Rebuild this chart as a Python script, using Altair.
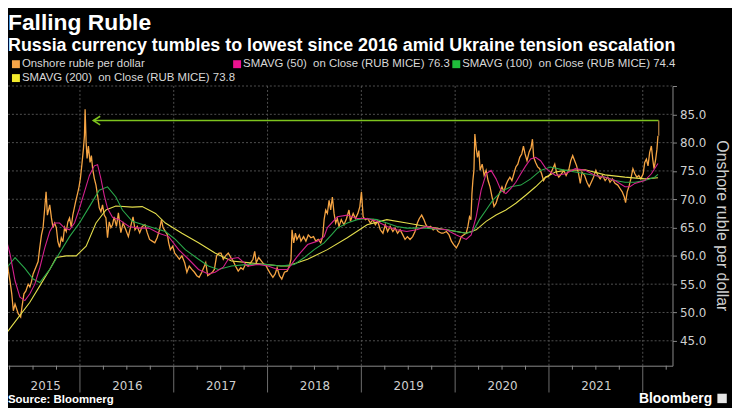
import altair as alt
import pandas as pd

# ---------------- text ----------------
TITLE = "Falling Ruble"
SUBTITLE = "Russia currency tumbles to lowest since 2016 amid Ukraine tension escalation"
SOURCE = "Source: Bloomnerg"
BRAND = "Bloomberg"
Y_TITLE = "Onshore ruble per dollar"

SERIES = [
    "Onshore ruble per dollar",
    "SMAVG (50)  on Close (RUB MICE) 76.3",
    "SMAVG (100)  on Close (RUB MICE) 74.4",
    "SMAVG (200)  on Close (RUB MICE) 73.8",
]
LEGEND_COLORS = ["#f7a548", "#ec128f", "#1fbd3b", "#f2ea2c"]
LINE_COLORS = ["#f5a443", "#d4218d", "#2aa84a", "#e3dd4c"]

YEAR_LABELS = [2015, 2016, 2017, 2018, 2019, 2020, 2021]
YEAR_BOUNDS = [2016, 2017, 2018, 2019, 2020, 2021, 2022]
Y_TICKS = [45, 50, 55, 60, 65, 70, 75, 80, 85, 90]

# ---------------- data (decimal year, RUB per USD) ----------------
PRICE = [
    (2015.149, 63.2), (2015.184, 61.5), (2015.202, 62.0), (2015.220, 59.7), (2015.237, 57.3),
    (2015.255, 55.5), (2015.273, 53.3), (2015.290, 50.3), (2015.308, 51.5), (2015.342, 49.8),
    (2015.368, 49.2), (2015.382, 51.0), (2015.403, 53.3), (2015.424, 53.8), (2015.448, 55.0),
    (2015.466, 54.5), (2015.484, 55.5), (2015.501, 56.8), (2015.530, 58.0), (2015.554, 59.0),
    (2015.572, 61.5), (2015.590, 63.7), (2015.607, 65.0), (2015.625, 68.5), (2015.639, 71.3),
    (2015.653, 67.2), (2015.678, 69.0), (2015.696, 66.7), (2015.713, 65.0), (2015.730, 65.8),
    (2015.748, 65.0), (2015.765, 62.5), (2015.783, 61.5), (2015.801, 63.2), (2015.818, 62.5),
    (2015.836, 65.0), (2015.854, 64.3), (2015.871, 66.0), (2015.889, 66.7), (2015.907, 65.1),
    (2015.924, 67.2), (2015.953, 69.5), (2015.970, 70.7), (2015.987, 71.9), (2016.005, 73.7),
    (2016.023, 76.5), (2016.037, 78.9), (2016.048, 81.2), (2016.055, 85.9), (2016.066, 80.0),
    (2016.076, 77.2), (2016.090, 79.4), (2016.108, 76.5), (2016.122, 77.7), (2016.135, 75.4),
    (2016.153, 73.7), (2016.171, 72.5), (2016.188, 70.7), (2016.206, 68.5), (2016.224, 67.8),
    (2016.241, 69.0), (2016.259, 67.2), (2016.277, 66.7), (2016.294, 63.2), (2016.312, 66.0),
    (2016.330, 65.0), (2016.347, 65.5), (2016.365, 66.9), (2016.389, 65.2), (2016.410, 67.6),
    (2016.436, 64.1), (2016.460, 65.8), (2016.489, 64.6), (2016.516, 63.4), (2016.541, 65.2),
    (2016.566, 66.9), (2016.587, 64.6), (2016.611, 65.2), (2016.637, 64.1), (2016.664, 65.2),
    (2016.693, 65.5), (2016.717, 64.1), (2016.742, 62.9), (2016.770, 62.6), (2016.798, 62.3),
    (2016.823, 63.2), (2016.848, 64.6), (2016.869, 66.4), (2016.886, 65.0), (2016.911, 64.3),
    (2016.933, 63.7), (2016.946, 62.3), (2016.964, 61.1), (2016.989, 61.7), (2017.010, 60.5),
    (2017.034, 60.0), (2017.060, 59.4), (2017.087, 60.0), (2017.116, 58.8), (2017.140, 57.1),
    (2017.165, 58.2), (2017.193, 57.6), (2017.221, 57.1), (2017.246, 56.5), (2017.271, 56.2),
    (2017.299, 57.1), (2017.327, 58.2), (2017.341, 58.8), (2017.362, 56.5), (2017.387, 56.8),
    (2017.412, 57.1), (2017.433, 57.6), (2017.457, 60.0), (2017.483, 60.5), (2017.504, 60.5),
    (2017.528, 59.4), (2017.552, 60.0), (2017.581, 60.5), (2017.609, 59.7), (2017.634, 59.1),
    (2017.658, 58.2), (2017.687, 57.3), (2017.715, 57.9), (2017.739, 57.6), (2017.764, 58.5),
    (2017.792, 58.2), (2017.821, 58.8), (2017.845, 59.4), (2017.863, 60.8), (2017.880, 58.8),
    (2017.905, 59.7), (2017.933, 59.1), (2017.961, 58.5), (2017.986, 58.2), (2018.004, 57.6),
    (2018.032, 56.8), (2018.057, 56.2), (2018.081, 56.8), (2018.102, 57.9), (2018.127, 56.5),
    (2018.152, 55.9), (2018.180, 57.1), (2018.208, 57.3), (2018.233, 58.2), (2018.250, 59.4),
    (2018.261, 64.6), (2018.279, 62.3), (2018.297, 64.0), (2018.313, 62.9), (2018.339, 63.7),
    (2018.356, 62.6), (2018.384, 63.4), (2018.409, 62.6), (2018.434, 63.7), (2018.462, 63.2),
    (2018.490, 63.4), (2018.514, 62.6), (2018.540, 62.9), (2018.567, 62.3), (2018.588, 63.4),
    (2018.603, 66.4), (2018.620, 68.1), (2018.638, 67.5), (2018.656, 69.8), (2018.673, 68.1),
    (2018.691, 70.4), (2018.709, 67.5), (2018.726, 65.8), (2018.744, 66.6), (2018.762, 65.2),
    (2018.786, 66.4), (2018.815, 65.5), (2018.842, 66.6), (2018.868, 68.1), (2018.884, 66.1),
    (2018.913, 67.5), (2018.937, 66.6), (2018.963, 67.5), (2018.984, 68.7), (2019.001, 71.3),
    (2019.019, 66.9), (2019.043, 66.4), (2019.068, 66.6), (2019.096, 65.8), (2019.124, 66.4),
    (2019.149, 65.5), (2019.174, 66.1), (2019.202, 64.6), (2019.230, 64.0), (2019.255, 65.5),
    (2019.280, 64.3), (2019.307, 65.2), (2019.336, 64.3), (2019.360, 64.9), (2019.386, 64.0),
    (2019.413, 64.6), (2019.442, 63.7), (2019.466, 62.9), (2019.491, 63.4), (2019.519, 62.9),
    (2019.547, 63.4), (2019.572, 64.3), (2019.597, 65.8), (2019.618, 66.6), (2019.643, 67.2),
    (2019.667, 66.4), (2019.688, 65.5), (2019.713, 64.9), (2019.738, 65.2), (2019.766, 64.6),
    (2019.794, 64.9), (2019.819, 64.3), (2019.854, 64.0), (2019.872, 64.0), (2019.907, 64.3),
    (2019.935, 63.7), (2019.960, 62.6), (2019.984, 62.0), (2020.013, 61.4), (2020.041, 62.3),
    (2020.065, 63.4), (2020.090, 63.7), (2020.118, 64.0), (2020.136, 65.2), (2020.153, 66.9),
    (2020.168, 66.4), (2020.179, 71.0), (2020.189, 73.3), (2020.200, 75.1), (2020.210, 81.5),
    (2020.224, 79.1), (2020.238, 77.4), (2020.253, 78.6), (2020.266, 75.1), (2020.288, 76.2),
    (2020.309, 74.2), (2020.330, 75.1), (2020.351, 73.3), (2020.372, 72.2), (2020.393, 70.4),
    (2020.414, 68.7), (2020.436, 69.3), (2020.457, 70.4), (2020.478, 71.3), (2020.499, 72.2),
    (2020.520, 71.3), (2020.541, 72.5), (2020.562, 73.3), (2020.584, 73.9), (2020.605, 73.3),
    (2020.626, 74.5), (2020.647, 75.7), (2020.668, 76.2), (2020.689, 77.4), (2020.710, 78.0),
    (2020.728, 79.4), (2020.745, 78.0), (2020.766, 76.8), (2020.788, 78.3), (2020.809, 79.1),
    (2020.824, 80.6), (2020.837, 77.4), (2020.858, 76.5), (2020.880, 75.7), (2020.901, 75.4),
    (2020.922, 74.5), (2020.943, 73.3), (2020.964, 73.9), (2020.993, 74.0), (2021.017, 74.5),
    (2021.041, 75.4), (2021.062, 76.2), (2021.084, 74.5), (2021.105, 73.9), (2021.133, 74.5),
    (2021.158, 75.1), (2021.183, 74.2), (2021.210, 75.1), (2021.232, 76.8), (2021.253, 77.7),
    (2021.274, 76.8), (2021.295, 75.9), (2021.316, 74.5), (2021.334, 72.8), (2021.352, 74.8),
    (2021.380, 74.2), (2021.405, 73.0), (2021.429, 72.2), (2021.451, 73.0), (2021.475, 73.9),
    (2021.500, 75.1), (2021.521, 74.2), (2021.546, 73.6), (2021.570, 74.2), (2021.599, 73.3),
    (2021.627, 73.9), (2021.651, 73.0), (2021.676, 73.6), (2021.704, 72.8), (2021.733, 72.5),
    (2021.757, 71.9), (2021.781, 71.3), (2021.803, 70.4), (2021.817, 69.4), (2021.834, 71.3),
    (2021.852, 72.2), (2021.873, 73.6), (2021.895, 75.4), (2021.916, 74.5), (2021.937, 73.9),
    (2021.958, 74.2), (2021.979, 73.6), (2022.004, 74.5), (2022.021, 76.5), (2022.039, 77.1),
    (2022.056, 75.9), (2022.074, 78.3), (2022.092, 79.4), (2022.106, 77.1), (2022.120, 75.4),
    (2022.138, 77.1), (2022.151, 78.8), (2022.162, 81.2),
]

SMA50 = [
    (2015.149, 62.6), (2015.202, 63.7), (2015.255, 60.3), (2015.308, 55.6), (2015.360, 52.7),
    (2015.413, 52.1), (2015.466, 53.3), (2015.519, 55.0), (2015.572, 57.9), (2015.625, 61.4),
    (2015.678, 64.3), (2015.731, 65.8), (2015.783, 65.8), (2015.836, 64.9), (2015.889, 64.6),
    (2015.942, 65.8), (2015.995, 68.4), (2016.048, 71.3), (2016.101, 74.2), (2016.153, 75.9),
    (2016.188, 76.1), (2016.224, 73.6), (2016.259, 70.7), (2016.294, 68.4), (2016.347, 66.8),
    (2016.418, 66.4), (2016.523, 65.2), (2016.629, 64.9), (2016.735, 64.9), (2016.841, 64.0),
    (2016.946, 63.4), (2017.052, 61.1), (2017.158, 59.4), (2017.264, 57.6), (2017.369, 56.8),
    (2017.440, 57.1), (2017.528, 58.0), (2017.581, 59.4), (2017.687, 59.7), (2017.792, 58.2),
    (2017.898, 58.5), (2018.004, 58.2), (2018.109, 57.6), (2018.215, 57.6), (2018.321, 60.0),
    (2018.427, 62.0), (2018.532, 62.6), (2018.603, 63.4), (2018.638, 65.0), (2018.744, 66.9),
    (2018.850, 67.2), (2018.955, 66.6), (2019.061, 66.6), (2019.167, 66.1), (2019.272, 65.2),
    (2019.378, 64.6), (2019.484, 64.3), (2019.590, 64.6), (2019.695, 65.2), (2019.801, 64.8),
    (2019.907, 64.6), (2020.013, 63.7), (2020.118, 62.9), (2020.171, 63.7), (2020.224, 66.9),
    (2020.277, 71.6), (2020.330, 74.5), (2020.383, 75.1), (2020.436, 73.6), (2020.488, 71.6),
    (2020.541, 71.0), (2020.594, 71.9), (2020.647, 73.0), (2020.700, 74.5), (2020.752, 75.9),
    (2020.805, 77.1), (2020.858, 77.4), (2020.911, 76.8), (2020.964, 75.5), (2021.017, 74.8),
    (2021.070, 74.2), (2021.175, 74.5), (2021.281, 75.4), (2021.387, 75.1), (2021.493, 74.2),
    (2021.598, 73.9), (2021.704, 73.3), (2021.810, 72.2), (2021.863, 72.2), (2021.916, 72.8),
    (2022.021, 73.3), (2022.092, 74.5), (2022.162, 76.3),
]

SMA100 = [
    (2015.149, 53.6), (2015.220, 57.9), (2015.308, 59.7), (2015.413, 57.8), (2015.501, 55.9),
    (2015.572, 55.3), (2015.678, 57.6), (2015.783, 60.5), (2015.889, 63.4), (2015.995, 65.8),
    (2016.101, 68.7), (2016.206, 71.6), (2016.294, 72.2), (2016.383, 70.4), (2016.453, 68.1),
    (2016.558, 66.1), (2016.735, 65.2), (2016.911, 64.3), (2017.017, 62.9), (2017.123, 61.1),
    (2017.264, 59.4), (2017.369, 58.2), (2017.475, 57.6), (2017.616, 58.2), (2017.792, 58.5),
    (2017.969, 58.5), (2018.144, 58.2), (2018.286, 58.5), (2018.392, 59.7), (2018.497, 61.1),
    (2018.603, 62.3), (2018.691, 63.9), (2018.744, 64.9), (2018.850, 65.8), (2018.955, 66.4),
    (2019.061, 66.6), (2019.167, 66.4), (2019.272, 65.8), (2019.378, 65.2), (2019.484, 64.9),
    (2019.590, 64.9), (2019.695, 64.9), (2019.801, 64.7), (2019.907, 64.6), (2020.013, 64.3),
    (2020.118, 64.0), (2020.189, 64.3), (2020.259, 66.4), (2020.330, 68.1), (2020.400, 69.8),
    (2020.488, 71.3), (2020.594, 72.2), (2020.700, 72.5), (2020.805, 73.6), (2020.911, 75.1),
    (2021.017, 75.7), (2021.175, 75.1), (2021.281, 74.8), (2021.387, 74.5), (2021.493, 74.2),
    (2021.598, 73.9), (2021.704, 73.3), (2021.810, 73.0), (2021.916, 73.0), (2022.021, 73.3),
    (2022.127, 73.9), (2022.162, 74.4),
]

SMA200 = [
    (2015.149, 44.9), (2015.255, 47.2), (2015.360, 49.5), (2015.466, 51.8), (2015.572, 54.7),
    (2015.678, 57.6), (2015.748, 59.7), (2015.854, 60.0), (2015.960, 60.0), (2016.066, 61.7),
    (2016.171, 65.8), (2016.277, 68.1), (2016.383, 68.8), (2016.558, 68.6), (2016.664, 68.7),
    (2016.806, 67.5), (2016.911, 65.8), (2017.087, 64.0), (2017.264, 62.3), (2017.440, 60.5),
    (2017.616, 59.1), (2017.792, 58.8), (2017.969, 58.5), (2018.144, 58.2), (2018.215, 58.2),
    (2018.427, 59.4), (2018.638, 61.1), (2018.850, 63.2), (2019.061, 65.5), (2019.272, 66.4),
    (2019.484, 65.8), (2019.695, 65.2), (2019.907, 64.6), (2020.118, 64.0), (2020.224, 64.6),
    (2020.330, 66.1), (2020.436, 67.2), (2020.541, 68.1), (2020.647, 69.3), (2020.752, 70.7),
    (2020.858, 72.2), (2020.964, 73.9), (2021.070, 74.8), (2021.175, 75.1), (2021.387, 75.2),
    (2021.598, 74.3), (2021.810, 73.9), (2022.021, 73.6), (2022.162, 73.8),
]

# green "back to the 2016 high" arrow
ARROW_START = 2016.143
ARROW_END = 2022.170
ARROW_LEVEL = 83.9

# ---------------- layout / style ----------------
W, H = 670, 282
X_DOMAIN = [2015.233, 2022.317]
Y_DOMAIN = [40.6, 90.0]
AXIS_GRAY = "#8a8a8a"
GRID_GRAY = "#505050"
LABEL_GRAY = "#cfcfcf"
TXT_FONT = "Liberation Sans"
NUM_FONT = "DejaVu Sans"

xs = alt.Scale(domain=X_DOMAIN, nice=False, zero=False)
ys = alt.Scale(domain=Y_DOMAIN, nice=False, zero=False)


def frame(pairs):
    return pd.DataFrame(pairs, columns=["t", "v"])


LABEL_AT = [2015.63] + [y + 0.5 for y in YEAR_LABELS[1:]]
QUARTERS = [y + q for y in range(2015, 2023) for q in (0.25, 0.5, 0.75)
            if X_DOMAIN[0] <= y + q <= X_DOMAIN[1]]

# identical axis definitions on every layer, so the shared axes merge cleanly
X_AXIS = alt.Axis(values=LABEL_AT, labelExpr="'' + floor(datum.value)", ticks=False,
                  grid=False, domain=True, domainColor=AXIS_GRAY,
                  labelColor=LABEL_GRAY, labelFont=NUM_FONT, labelFontSize=12,
                  labelPadding=15, title=None)
Y_AXIS = alt.Axis(orient="right", values=Y_TICKS,
                  labelExpr="datum.value > 88 ? '' : format(datum.value, '.1f')",
                  grid=False, ticks=True, tickSize=4, tickColor=AXIS_GRAY, domain=True,
                  domainColor=AXIS_GRAY, labelColor=LABEL_GRAY, labelFont=NUM_FONT,
                  labelFontSize=12, labelPadding=3, title=None)


def X(field):
    return alt.X(field, scale=xs, axis=X_AXIS)


def Y(field):
    return alt.Y(field, scale=ys, axis=Y_AXIS)


bounds_df = pd.DataFrame({"t": YEAR_BOUNDS})
year_grid = alt.Chart(bounds_df).mark_rule(color=GRID_GRAY, strokeDash=[2, 2], strokeWidth=1).encode(
    x=X("t:Q"), y=alt.value(0), y2=alt.value(H))
h_grid = alt.Chart(pd.DataFrame({"v": Y_TICKS})).mark_rule(
    color=GRID_GRAY, strokeDash=[2, 2], strokeWidth=1).encode(
    y=Y("v:Q"), x=alt.value(0), x2=alt.value(W))
year_sep = alt.Chart(bounds_df).mark_rule(color="#6e6e6e", strokeWidth=1).encode(
    x=X("t:Q"), y=alt.value(H), y2=alt.value(H + 27))
q_ticks = alt.Chart(pd.DataFrame({"t": QUARTERS})).mark_rule(color=AXIS_GRAY, strokeWidth=1).encode(
    x=X("t:Q"), y=alt.value(H), y2=alt.value(H + 4))

price = alt.Chart(frame(PRICE)).mark_line(color=LINE_COLORS[0], strokeWidth=1.3, clip=True).encode(
    x=X("t:Q"), y=Y("v:Q"))


def sma(pairs, color):
    return alt.Chart(frame(pairs)).mark_line(color=color, strokeWidth=1.1, clip=True).encode(
        x=X("t:Q"), y=Y("v:Q"))


arrow_df = pd.DataFrame({"t0": [ARROW_START], "t1": [ARROW_END], "v": [ARROW_LEVEL],
                         "last": [PRICE[-1][1]]})
arrow_line = alt.Chart(arrow_df).mark_rule(color="#7dc31e", strokeWidth=1.6).encode(
    x=X("t0:Q"), x2="t1:Q", y=Y("v:Q"))
arrow_head = alt.Chart(arrow_df).mark_point(
    shape="M 1.6 -1 L 0 0 L 1.6 1", size=74, filled=False, strokeWidth=1.6,
    color="#7dc31e", opacity=1).encode(x=X("t0:Q"), y=Y("v:Q"))
arrow_drop = alt.Chart(arrow_df).mark_rule(color="#a0703a", strokeWidth=1.4).encode(
    x=X("t1:Q"), y=Y("last:Q"), y2="v:Q")

ONE = pd.DataFrame({"k": [0]})


def label(text, x, y, **kw):
    return alt.Chart(ONE).mark_text(text=text, **kw).encode(x=alt.value(x), y=alt.value(y))


texts = [
    label(TITLE, 0, -56, align="left", baseline="alphabetic", font=TXT_FONT,
          fontSize=23, fontWeight="bold", color="#ffffff"),
    label(SUBTITLE, 0, -35, align="left", baseline="alphabetic", font=TXT_FONT,
          fontSize=18, fontWeight="bold", color="#ffffff"),
    label(Y_TITLE, W + 50, H / 2, align="center", baseline="middle", angle=90,
          font=TXT_FONT, fontSize=16, color=LABEL_GRAY),
    label(SOURCE, 0, H + 38, align="left", baseline="alphabetic", font=TXT_FONT,
          fontSize=11.5, fontWeight="bold", color="#ffffff"),
    label(BRAND, W + 40, H + 38, align="right", baseline="alphabetic", font=TXT_FONT,
          fontSize=14, fontWeight="bold", color="#ffffff"),
    alt.Chart(ONE).mark_square(size=90, color="#e6e6e6", opacity=1).encode(
        x=alt.value(W + 50), y=alt.value(H + 33)),
]

# legend: 3 entries on the first row, one on the second (Bloomberg layout)
LEG_SQ_X = [8, 231, 452, 8]
LEG_ROW_Y = [-22, -22, -22, -8]
legend = []
for i, (name, col) in enumerate(zip(SERIES, LEGEND_COLORS)):
    legend.append(alt.Chart(ONE).mark_square(size=64, color=col, opacity=1).encode(
        x=alt.value(LEG_SQ_X[i]), y=alt.value(LEG_ROW_Y[i])))
    legend.append(label(name.replace("  ", " \u00a0"), LEG_SQ_X[i] + 6, LEG_ROW_Y[i],
                        align="left", baseline="middle", font=TXT_FONT, fontSize=11.5,
                        color="#d8d8d8"))

chart = alt.layer(
    year_grid, h_grid, year_sep, q_ticks, price,
    sma(SMA200, LINE_COLORS[3]), sma(SMA100, LINE_COLORS[2]), sma(SMA50, LINE_COLORS[1]),
    arrow_line, arrow_head, arrow_drop, *texts, *legend,
).properties(
    width=W, height=H,
    padding={"left": 0, "top": 77, "right": 60, "bottom": 41},
    autosize=alt.AutoSizeParams(type="none"),
).configure(background="#000000").configure_view(stroke=None)

chart.save("out.html", embed_options={"renderer": "svg", "actions": False})
